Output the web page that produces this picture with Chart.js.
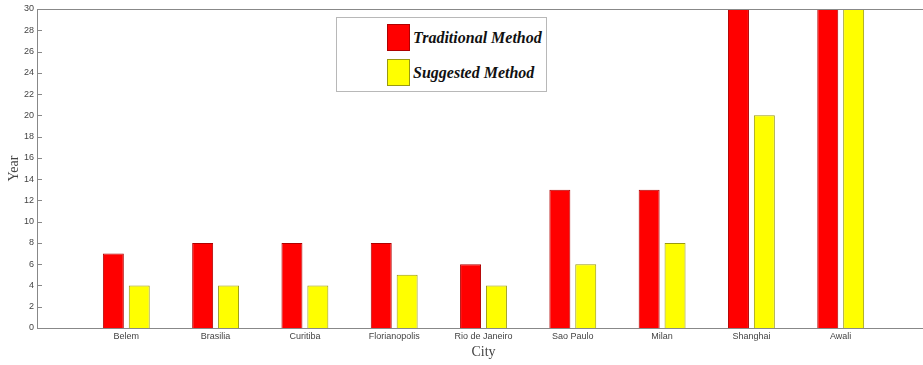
<!DOCTYPE html>
<html>
<head>
<meta charset="utf-8">
<script src="https://cdn.jsdelivr.net/npm/chart.js@4.4.0/dist/chart.umd.min.js"></script>
<style>
  html, body { margin: 0; padding: 0; background: #fff; overflow: hidden; }
  #wrap { position: relative; width: 933px; height: 365px; }
  #legend {
    position: absolute; left: 336px; top: 17px; width: 211px; height: 75px;
    border: 1px solid #b8b8b8; background: #fff; box-sizing: border-box;
    font-family: "Liberation Serif", "DejaVu Serif", serif;
    font-style: italic; font-weight: bold; font-size: 16px; color: #111;
  }
  .leg-row { position: absolute; left: 50px; display: flex; align-items: center; }
  .leg-box { width: 23px; height: 27px; box-sizing: border-box; margin-right: 3px; }
</style>
</head>
<body>
<div id="wrap">
  <canvas id="chart" width="933" height="365"></canvas>
  <div id="legend"></div>
</div>
<script>
// ======================== DATA ========================

// empty labels at both ends leave the blank margins of the original axis
const cities = ["", "Belem", "Brasilia", "Curitiba", "Florianopolis", "Rio de Janeiro", "Sao Paulo", "Milan", "Shanghai", "Awali", ""];
const traditional = [null, 7, 8, 8, 8, 6, 13, 13, 30, 30, null];
const suggested = [null, 4, 4, 4, 5, 4, 6, 8, 20, 30, null];
const yTicks = [0, 2, 4, 6, 8, 10, 12, 14, 16, 18, 20, 22, 24, 26, 28, 30];

const seriesNames = ["Traditional Method", "Suggested Method"];
const seriesColors = ["#ff0000", "#ffff00"];
const seriesBorders = ["#b00000", "#9a9a10"];

// ======================== PLUGINS ========================

// MATLAB style: short tick marks pointing into the plot, plus top frame line
const frame = {
  id: "frame",
  afterDraw(chart) {
    const { ctx, chartArea } = chart;
    const y = chart.scales.y;
    ctx.save();
    ctx.strokeStyle = "#888";
    ctx.lineWidth = 1;
    yTicks.forEach((v) => {
      const py = Math.round(y.getPixelForValue(v)) + 0.5;
      ctx.beginPath();
      ctx.moveTo(chartArea.left, py);
      ctx.lineTo(chartArea.left + 5, py);
      ctx.stroke();
    });
    ctx.beginPath();
    ctx.moveTo(chartArea.left, chartArea.top + 0.5);
    ctx.lineTo(chart.width, chartArea.top + 0.5);
    ctx.stroke();
    ctx.restore();
  }
};

// ======================== CHART ========================

const ctx = document.getElementById("chart").getContext("2d");

new Chart(ctx, {
  type: "bar",
  data: {
    labels: cities,
    datasets: [
      {
        label: seriesNames[0],
        data: traditional,
        backgroundColor: seriesColors[0],
        borderColor: seriesBorders[0],
        borderWidth: 1,
        categoryPercentage: 0.58,
        barPercentage: 0.81
      },
      {
        label: seriesNames[1],
        data: suggested,
        backgroundColor: seriesColors[1],
        borderColor: seriesBorders[1],
        borderWidth: 1,
        categoryPercentage: 0.58,
        barPercentage: 0.81
      }
    ]
  },
  options: {
    responsive: false,
    animation: false,
    layout: { padding: { top: 9, right: 0, left: 0, bottom: 0 } },
    plugins: { legend: { display: false }, tooltip: { enabled: false } },
    scales: {
      x: {
        offset: false,
        grid: { display: false, drawTicks: false },
        border: { color: "#888" },
        ticks: {
          autoSkip: false, maxRotation: 0, padding: 3,
          color: "#444", font: { family: "Liberation Sans", size: 9 }
        },
        title: {
          display: true, text: "City", color: "#444", padding: { top: 2, bottom: 4 },
          font: { family: "Liberation Serif", size: 14 }
        },
        afterFit: (s) => { s.height = 37; }
      },
      y: {
        min: 0,
        max: 30,
        afterBuildTicks: (s) => { s.ticks = yTicks.map((v) => ({ value: v })); },
        grid: { display: false, drawTicks: false },
        border: { color: "#888" },
        ticks: {
          padding: 3, color: "#444", font: { family: "Liberation Sans", size: 9 }
        },
        title: {
          display: true, text: "Year", color: "#444", padding: { top: 6, bottom: 0 },
          font: { family: "Liberation Serif", size: 14 }
        },
        afterFit: (s) => { s.width = 37; }
      }
    }
  },
  plugins: [frame]
});

// ======================== LEGEND ========================

const legend = document.getElementById("legend");
seriesNames.forEach((name, i) => {
  const row = document.createElement("div");
  row.className = "leg-row";
  row.style.top = i === 0 ? "6px" : "41px";
  row.innerHTML = `<div class="leg-box" style="background:${seriesColors[i]};border:1px solid ${seriesBorders[i]}"></div><span>${name}</span>`;
  legend.appendChild(row);
});
</script>
</body>
</html>
